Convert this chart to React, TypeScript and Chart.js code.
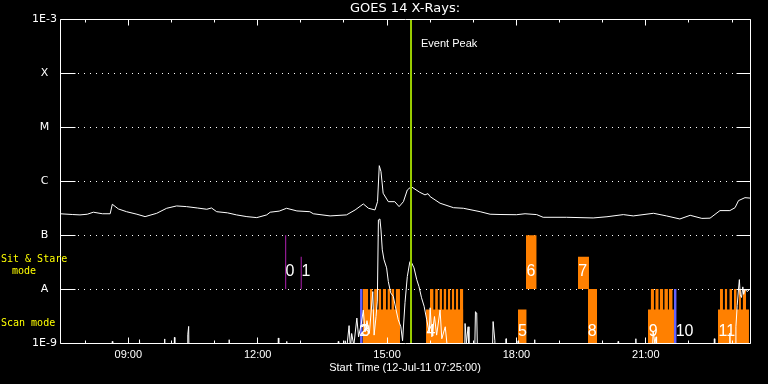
import { useEffect, useRef } from 'react';
import { Chart, registerables } from 'chart.js';

Chart.register(...registerables);

// ---------- axis definitions ----------
const START_HOUR = 7 + 25 / 60; // 07:25 UT
const SPAN_HOURS = 16;
const fluxLevels = [1e-9, 1e-8, 1e-7, 1e-6, 1e-5, 1e-4, 1e-3];
const fluxLabels = ['1E-9', 'A', 'B', 'C', 'M', 'X', '1E-3'];
const labelledHours = [9, 12, 15, 18, 21];
const tickHours = [8, 9, 10, 11, 12, 13, 14, 15, 16, 17, 18, 19, 20, 21, 22, 23];

const EVENT_PEAK_HOUR = 15.556;
const FLOOR = 5e-10; // below the plot floor

// ---------- GOES long channel (1-8 A), [hour, W/m^2] ----------
const longFlux: [number, number][] = [
  [7.417, 2.5e-7], [7.7, 2.42e-7], [7.88, 2.38e-7], [8.05, 2.45e-7], [8.19, 2.67e-7], [8.4, 2.5e-7],
  [8.58, 2.5e-7], [8.63, 3.75e-7], [8.77, 3.07e-7], [8.96, 2.73e-7], [9.2, 2.45e-7], [9.39, 2.21e-7],
  [9.66, 2.55e-7], [9.89, 3.16e-7], [10.12, 3.49e-7], [10.35, 3.39e-7], [10.6, 3.2e-7], [10.82, 3.03e-7],
  [10.93, 3.2e-7], [11.05, 2.73e-7], [11.3, 2.6e-7], [11.51, 2.38e-7], [11.75, 2.21e-7], [11.98, 2.12e-7],
  [12.21, 2.38e-7], [12.29, 2.67e-7], [12.5, 2.8e-7], [12.67, 3.16e-7], [12.91, 2.82e-7], [13.21, 2.73e-7],
  [13.29, 2.5e-7], [13.68, 2.28e-7], [14.06, 2.38e-7], [14.26, 2.94e-7], [14.45, 3.8e-7], [14.57, 3.16e-7],
  [14.72, 2.94e-7], [14.78, 4.19e-7], [14.82, 1.95e-6], [14.86, 1.51e-6], [14.91, 6.0e-7], [15.03, 4.19e-7],
  [15.18, 4.19e-7], [15.28, 3.39e-7], [15.38, 4.19e-7], [15.47, 6.9e-7], [15.56, 7.94e-7], [15.76, 6.25e-7],
  [15.88, 5.6e-7], [15.95, 5.9e-7], [16.0, 5.19e-7], [16.23, 3.92e-7], [16.54, 3.24e-7], [16.77, 3.16e-7],
  [17.16, 2.73e-7], [17.39, 2.45e-7], [17.62, 2.42e-7], [18.0, 2.4e-7], [18.2, 2.5e-7], [18.47, 2.41e-7],
  [18.62, 2.15e-7], [19.16, 2.15e-7], [19.78, 2.09e-7], [20.1, 2.2e-7], [20.48, 2.41e-7], [20.71, 2.28e-7],
  [21.18, 2.55e-7], [21.48, 2.28e-7], [21.79, 2.0e-7], [22.03, 2.34e-7], [22.3, 2.05e-7], [22.49, 2.07e-7],
  [22.72, 2.86e-7], [22.95, 2.86e-7], [23.07, 3.24e-7], [23.15, 4.38e-7], [23.3, 4.97e-7], [23.417, 4.88e-7],
];

// ---------- GOES short channel (0.5-4 A), [hour, W/m^2] ----------
const shortFlux: [number, number][] = [
  [7.42, FLOOR], [8.62, FLOOR], [8.63, 1.07e-9], [8.64, FLOOR],
  [9.25, FLOOR], [9.26, 1.15e-9], [9.28, FLOOR],
  [9.83, FLOOR], [9.84, 1.19e-9], [9.85, FLOOR],
  [10.06, FLOOR], [10.07, 1.27e-9], [10.08, FLOOR],
  [10.37, FLOOR], [10.38, 1.42e-9], [10.4, 2.03e-9], [10.41, FLOOR],
  [11.33, FLOOR], [11.34, 1.15e-9], [11.36, FLOOR],
  [12.47, FLOOR], [12.48, 1.24e-9], [12.49, FLOOR],
  [12.66, FLOOR], [12.67, 1.07e-9], [12.68, FLOOR],
  [13.86, FLOOR], [13.87, 1.07e-9], [13.88, FLOOR],
  [14.02, FLOOR], [14.03, 1.1e-9], [14.05, 6e-10], [14.12, 2.1e-9], [14.15, 8e-10], [14.18, 1.5e-9],
  [14.23, 9e-10], [14.3, 2.9e-9], [14.34, 1.3e-9], [14.4, 2.2e-9], [14.45, 4.1e-9], [14.49, 1.6e-9],
  [14.535, 2.6e-9], [14.59, 1.5e-9], [14.67, 9e-9], [14.7, 1.4e-9], [14.745, 3.1e-9], [14.775, 6e-9],
  [14.8, 1.92e-7], [14.835, 2.0e-7], [14.86, 1.25e-7], [14.89, 5.35e-8], [14.93, 3.5e-8], [14.99, 2.48e-8],
  [15.03, 1.38e-8], [15.085, 8.5e-9], [15.146, 7.3e-9], [15.21, 4.1e-9], [15.26, 2.7e-9], [15.32, 2.0e-9],
  [15.36, 1.1e-9], [15.417, 5.6e-9], [15.47, 1.71e-8], [15.53, 3.24e-8], [15.57, 3.07e-8], [15.625, 2.48e-8],
  [15.69, 1.49e-8], [15.74, 1.12e-8], [15.8, 6.9e-9], [15.86, 4.8e-9], [15.92, 2.7e-9], [15.98, 1.55e-9],
  [16.0, 4.5e-9], [16.04, 1.3e-9], [16.1, 3.1e-9], [16.15, 1.4e-9], [16.23, 4.1e-9], [16.27, 1.2e-9],
  [16.35, 2.0e-9], [16.4, 8e-10], [16.5, FLOOR],
  [16.8, FLOOR], [16.81, 2.3e-9], [16.84, 1.0e-9], [16.88, 2.0e-9], [16.9, FLOOR],
  [17.03, FLOOR], [17.05, 3.8e-9], [17.08, 3.6e-9], [17.1, FLOOR],
  [17.44, FLOOR], [17.46, 2.5e-9], [17.5, 1.1e-9], [17.51, FLOOR],
  [17.75, FLOOR], [17.76, 1.2e-9], [17.77, FLOOR],
  [18.03, FLOOR], [18.04, 1.1e-9], [18.05, FLOOR],
  [18.41, FLOOR], [18.42, 1.15e-9], [18.43, FLOOR],
  [20.35, FLOOR], [20.36, 1.07e-9], [20.37, FLOOR],
  [20.76, FLOOR], [20.77, 1.2e-9], [20.78, FLOOR],
  [21.15, FLOOR], [21.17, 1.64e-9], [21.21, 1.0e-9], [21.24, 1.3e-9], [21.25, FLOOR],
  [22.58, FLOOR], [22.59, 1.2e-9], [22.6, FLOOR],
  [22.94, FLOOR], [22.95, 1.53e-9], [22.96, FLOOR],
  [23.08, FLOOR], [23.09, 2e-9], [23.12, 5e-9], [23.15, 1.0e-8], [23.17, 1.5e-8], [23.19, 8e-9],
  [23.22, 7e-9], [23.25, 1.1e-8], [23.27, 8e-9], [23.3, 1.0e-8], [23.35, 9e-9], [23.417, 1.0e-8],
];

// ---------- observation coverage (band units: 0 = floor, 1 = A line, 2 = B line) ----------
const SCAN_PARTIAL_LEVEL = 0.62;
const SCAN_FULL_LEVEL = 1;
const STARE_BASE_LEVEL = 1;

const scanPartialBlocks: [number, number][] = [
  [14.436, 15.3], [15.904, 16.769], [18.036, 18.238], [21.051, 21.654], [22.674, 23.393],
];
const scanFullBlocks: [number, number][] = [
  [14.436, 14.565], [14.6, 14.665], [14.7, 14.767], [14.8, 14.867], [14.9, 14.976], [15.01, 15.068],
  [15.1, 15.168], [15.2, 15.3],
  [15.996, 16.08], [16.115, 16.18], [16.215, 16.275], [16.31, 16.375], [16.41, 16.468], [16.5, 16.56],
  [16.595, 16.653], [16.688, 16.769],
  [19.66, 19.87],
  [21.114, 21.19], [21.22, 21.3], [21.323, 21.406], [21.429, 21.514], [21.537, 21.624],
  [22.72, 22.79], [22.83, 22.89], [22.937, 23.0], [23.045, 23.108], [23.154, 23.207], [23.247, 23.324],
];
const stareBlocks: [number, number, number][] = [
  [18.222, 18.47, 2], [19.428, 19.683, 1.6],
];
const blueBlocks: [number, number][] = [
  [14.374, 14.436], [21.654, 21.716],
];
const purpleMarks: [number, number][] = [
  [12.65, 2], [13.01, 1.6],
];

const obsNumbers = ['0', '1', '2', '3', '4', '5', '6', '7', '8', '9', '10', '11'];
const obsNumberHours = [12.75, 13.12, 14.46, 14.5, 16.02, 18.14, 18.34, 19.54, 19.76, 21.17, 21.9, 22.88];
const obsNumberLevels = [1.32, 1.32, 0.21, 0.21, 0.21, 0.21, 1.32, 1.32, 0.21, 0.21, 0.21, 0.21];

// ---------- styles ----------
const ORANGE = '#ff8000';
const BLUE = '#6262ff';
const PURPLE = '#b020b0';
const GREEN = '#99cc00';
const WHITE = '#ffffff';
const YELLOW = '#ffff00';

const toPts = (arr: [number, number][]) => arr.map(([x, y]) => ({ x, y }));

const rect = (t0: number, t1: number, lo: number, hi: number, color: string, order: number) => ({
  type: 'line' as const,
  data: [{ x: t0, y: lo }, { x: t0, y: hi }, { x: t1, y: hi }, { x: t1, y: lo }],
  yAxisID: 'band',
  borderWidth: 0,
  borderColor: 'rgba(0,0,0,0)',
  backgroundColor: color,
  fill: { value: lo },
  pointRadius: 0,
  tension: 0,
  order,
});

const decorPlugin = {
  id: 'goesDecor',
  afterDatasetsDraw(chart: any) {
    const { ctx, chartArea: a, scales } = chart;
    const xs = scales.x;
    const ys = scales.y;
    const bs = scales.band;
    const px = (v: number) => Math.floor(v) + 0.5;
    ctx.save();
    ctx.strokeStyle = WHITE;
    ctx.lineWidth = 1;
    const L = px(a.left), R = px(a.right), T = px(a.top), B = px(a.bottom);
    ctx.beginPath();
    ctx.rect(L, T, R - L, B - T);
    // y level stubs
    fluxLevels.forEach((v) => {
      const y = px(ys.getPixelForValue(v));
      ctx.moveTo(L, y); ctx.lineTo(L + 15, y);
      ctx.moveTo(R - 14, y); ctx.lineTo(R, y);
    });
    // hour ticks top & bottom
    tickHours.forEach((h) => {
      const x = px(xs.getPixelForValue(h));
      const len = labelledHours.includes(h) ? 6 : 3;
      ctx.moveTo(x, T); ctx.lineTo(x, T + len);
      ctx.moveTo(x, B); ctx.lineTo(x, B - len);
    });
    ctx.stroke();

    // observation numbers
    ctx.fillStyle = WHITE;
    ctx.font = '16px "Liberation Sans"';
    ctx.textAlign = 'center';
    ctx.textBaseline = 'middle';
    obsNumbers.forEach((s, i) => {
      ctx.fillText(s, xs.getPixelForValue(obsNumberHours[i]), bs.getPixelForValue(obsNumberLevels[i]));
    });

    // Event peak label
    ctx.font = '11px "Liberation Sans"';
    ctx.textAlign = 'left';
    ctx.fillText('Event Peak', xs.getPixelForValue(EVENT_PEAK_HOUR) + 10, a.top + 24);

    // mode labels
    ctx.fillStyle = YELLOW;
    ctx.font = '10px "DejaVu Sans Mono"';
    ctx.textAlign = 'left';
    ctx.fillText('Sit & Stare', 1, bs.getPixelForValue(1.55));
    ctx.textAlign = 'center';
    ctx.fillText('mode', 24, bs.getPixelForValue(1.33));
    ctx.textAlign = 'left';
    ctx.fillText('Scan mode', 1, bs.getPixelForValue(0.36));
    ctx.restore();
  },
};

export default function App() {
  const ref = useRef<HTMLCanvasElement>(null);

  useEffect(() => {
    const canvas = ref.current;
    if (!canvas) return;

    const datasets: any[] = [];
    datasets.push({
      type: 'line',
      data: [{ x: EVENT_PEAK_HOUR, y: 1e-9 }, { x: EVENT_PEAK_HOUR, y: 1e-3 }],
      yAxisID: 'y', borderColor: GREEN, borderWidth: 2, pointRadius: 0, fill: false, order: 0,
    });
    datasets.push({
      type: 'line', data: toPts(longFlux), yAxisID: 'y', borderColor: WHITE, borderWidth: 1,
      pointRadius: 0, fill: false, tension: 0, order: 1,
    });
    datasets.push({
      type: 'line', data: toPts(shortFlux), yAxisID: 'y', borderColor: WHITE, borderWidth: 1,
      pointRadius: 0, fill: false, tension: 0, order: 1,
    });
    purpleMarks.forEach(([t, top]) => datasets.push({
      type: 'line', data: [{ x: t, y: STARE_BASE_LEVEL }, { x: t, y: top }], yAxisID: 'band',
      borderColor: PURPLE, borderWidth: 1, pointRadius: 0, fill: false, order: 2,
    }));
    blueBlocks.forEach(([t0, t1]) => datasets.push(rect(t0, t1, 0, SCAN_FULL_LEVEL, BLUE, 3)));
    scanFullBlocks.forEach(([t0, t1]) => datasets.push(rect(t0, t1, 0, SCAN_FULL_LEVEL, ORANGE, 4)));
    scanPartialBlocks.forEach(([t0, t1]) => datasets.push(rect(t0, t1, 0, SCAN_PARTIAL_LEVEL, ORANGE, 4)));
    stareBlocks.forEach(([t0, t1, top]) => datasets.push(rect(t0, t1, STARE_BASE_LEVEL, top, ORANGE, 4)));

    const chart = new Chart(canvas, {
      type: 'line',
      data: { datasets },
      options: {
        responsive: false,
        devicePixelRatio: 1,
        animation: false,
        layout: { padding: { left: 0, right: 18, top: 0, bottom: 0 } },
        plugins: {
          legend: { display: false },
          tooltip: { enabled: false },
          title: {
            display: true,
            text: 'GOES 14 X-Rays:',
            color: WHITE,
            fullSize: false,
            font: { family: 'DejaVu Sans', size: 13, weight: 'normal' },
            padding: { top: 1, bottom: 3 },
          },
        },
        scales: {
          x: {
            type: 'linear',
            min: START_HOUR,
            max: START_HOUR + SPAN_HOURS,
            afterBuildTicks: (s: any) => { s.ticks = labelledHours.map((h) => ({ value: h })); },
            ticks: {
              autoSkip: false,
              maxRotation: 0,
              color: WHITE,
              padding: 5,
              font: { family: 'Liberation Sans', size: 11 },
              callback: (v: any) => `${String(v).padStart(2, '0')}:00`,
            },
            grid: { display: false, drawTicks: false },
            border: { display: false },
            title: {
              display: true,
              text: 'Start Time (12-Jul-11 07:25:00)',
              color: WHITE,
              font: { family: 'Liberation Sans', size: 11 },
              padding: { top: 0, bottom: 9 },
            },
            afterFit: (s: any) => { s.height = 41; },
          },
          y: {
            type: 'logarithmic',
            position: 'left',
            min: 1e-9,
            max: 1e-3,
            afterBuildTicks: (s: any) => { s.ticks = fluxLevels.map((v) => ({ value: v })); },
            ticks: {
              autoSkip: false,
              color: WHITE,
              crossAlign: 'center',
              padding: 3,
              font: { family: 'DejaVu Sans', size: 11 },
              callback: (_v: any, i: number) => fluxLabels[i],
            },
            grid: {
              drawTicks: false,
              lineWidth: 1,
              color: (c: any) => (c.tick && (c.tick.value === 1e-9 || c.tick.value === 1e-3)) ? 'rgba(0,0,0,0)' : WHITE,
            },
            border: { display: false, dash: [1, 5] },
            afterFit: (s: any) => { s.width = 60; },
          },
          band: {
            type: 'linear',
            display: false,
            min: 0,
            max: 6,
          },
        },
      } as any,
      plugins: [decorPlugin],
    });
    return () => chart.destroy();
  }, []);

  return (
    <div style={{ position: 'fixed', left: 0, top: 0, width: 768, height: 384, background: '#000' }}>
      <canvas ref={ref} width={768} height={384} style={{ display: 'block', width: 768, height: 384 }} />
    </div>
  );
}
